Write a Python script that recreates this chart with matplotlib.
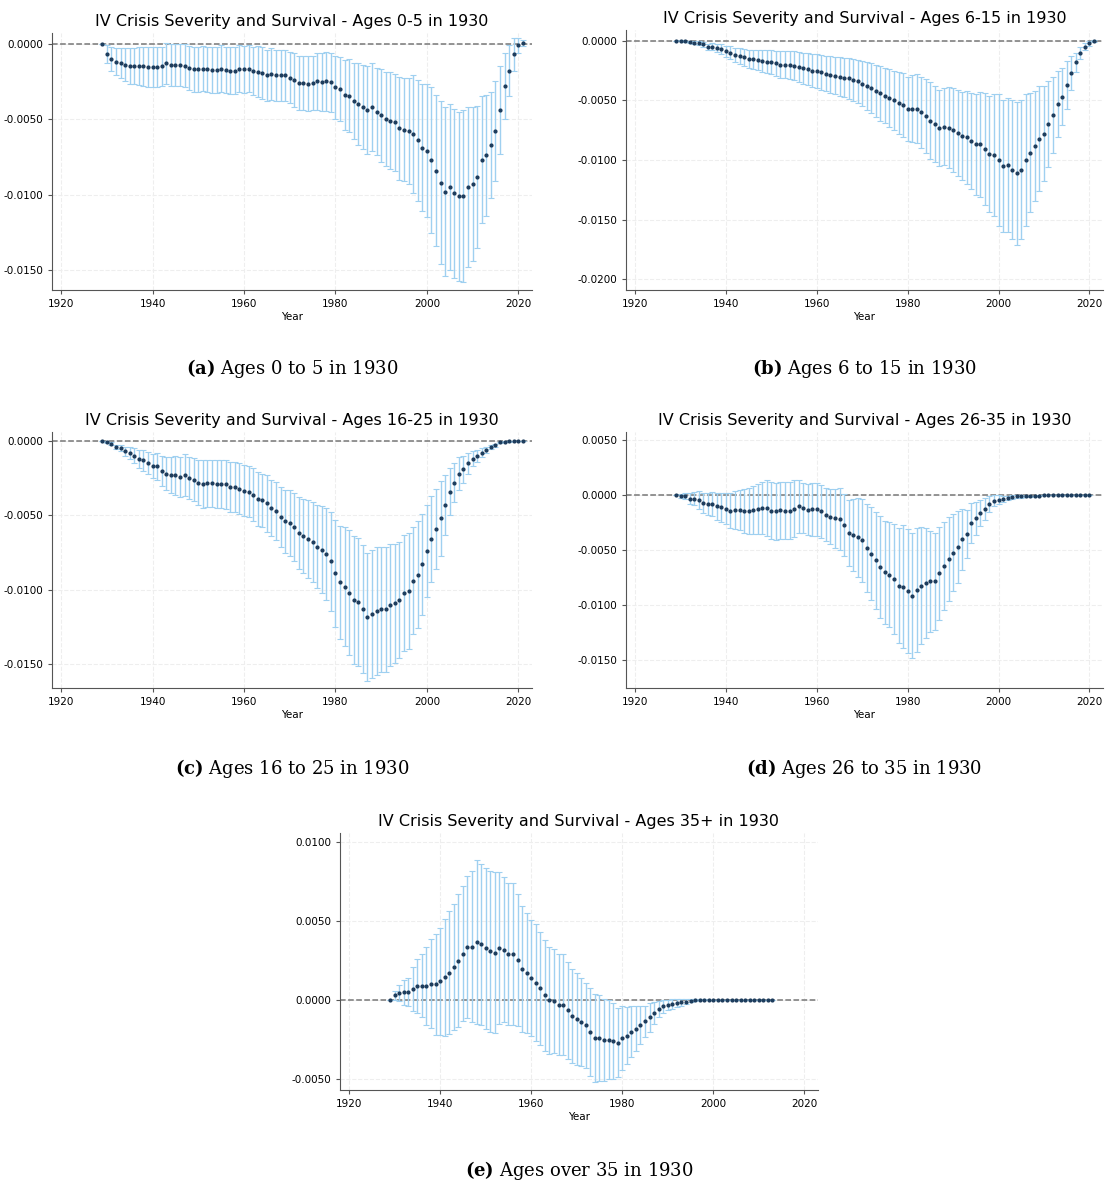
import matplotlib
matplotlib.use("Agg")
import matplotlib.pyplot as plt
import numpy as np

plt.rcParams["mathtext.fontset"] = "dejavuserif"

# values in units of 1e-4
est_a = [0, -7, -10, -12, -13, -14, -15, -15, -15, -15,
         -15.5, -15.5, -15.5, -15, -13, -14, -14, -14, -14.5, -16,
         -17, -17, -16.5, -17, -17.5, -17.5, -16.5, -17.5, -18, -18,
         -16.5, -17, -16.5, -18, -18.5, -19.5, -21, -20, -21, -21,
         -21, -22.5, -24, -26, -26, -26.5, -26, -25, -25.5, -25,
         -25.5, -29, -30, -34, -34.5, -38, -40, -42, -44, -42,
         -45, -47.5, -50, -51, -52, -56, -57, -58, -60, -64,
         -69, -71, -77, -84, -92, -98, -95, -99, -101, -101,
         -95, -93, -88, -77, -74, -67, -58, -44, -28, -18,
         -7, -1, 0.5]
hw_a = [0, 6, 8, 9, 10, 11, 12, 12, 12.5, 13,
        13, 13, 13, 13, 13.5, 14, 14, 14, 14, 14.5,
        15, 15, 15, 15, 15, 15, 15.5, 15.5, 15.5, 15.5,
        15.5, 15.5, 15.5, 16, 17, 17, 17, 17, 17, 17,
        17, 17, 18, 18, 18, 18, 18, 19, 19, 19.5,
        19.5, 21, 21, 23, 24, 25, 27, 28, 29, 29,
        29, 31, 31, 32, 32, 34, 34, 35, 39, 40,
        42, 44, 48, 50, 54, 56, 55, 56, 56, 57,
        53, 51, 47, 42, 40, 35, 33, 29, 22, 17,
        11, 5, 2]

est_b = [0, 0, -0.5, -1, -1.5, -2, -3, -5, -5, -6,
         -7, -9, -10, -12, -13, -14, -15, -15.5, -16, -17,
         -17.5, -18, -19, -20, -20, -20.5, -21, -22, -23, -24,
         -25, -25.5, -26.5, -27.5, -28.5, -29.5, -30, -31, -31.5, -33,
         -34, -36, -38, -40, -42, -44, -46, -48, -50, -52,
         -54, -57, -57, -57, -60, -63, -67, -70, -73, -72,
         -73, -75, -77, -80, -81, -84, -87, -87, -91, -95,
         -96, -100, -105, -104, -108, -111, -108, -100, -94, -88,
         -82, -78, -70, -62, -53, -47, -37, -27, -18, -10,
         -5, -2, 0]
hw_b = [0, 0.3, 0.5, 1, 1, 1.5, 2, 2.5, 3, 3.5,
        4, 5, 5.5, 6, 6.5, 7, 7.5, 8, 8.5, 9,
        9.5, 10, 10.5, 11, 11.5, 12, 12, 12.5, 13, 13.5,
        14, 14, 14.5, 15, 15.5, 15.5, 16, 16.5, 17, 17.5,
        18, 19, 20, 21, 22, 23, 23, 24, 25, 26,
        27, 27, 28, 29, 30, 31, 32, 32, 32, 32,
        34, 35, 36, 37, 39, 40, 42, 44, 47, 49,
        51, 55, 55, 56, 58, 60, 58, 55, 50, 46,
        44, 40, 36, 32, 28, 24, 20, 14, 8, 5,
        3, 2, 1]

est_c = [0, -1, -2, -4, -5, -7, -8, -10, -12, -13,
         -15, -17, -17, -20, -22, -23, -23, -24, -23, -25,
         -26, -28, -29, -28.5, -28.5, -29, -29, -29, -31, -31,
         -32, -33.5, -34, -36, -39, -40, -42, -45, -47, -51,
         -54, -55, -58, -62, -64, -66, -68, -71, -73, -76,
         -81, -89, -95, -98, -102, -107, -108, -113, -118, -116,
         -114, -113, -113, -110, -109, -107, -102, -101, -94, -90,
         -83, -74, -66, -59, -52, -43, -34, -28, -22, -19,
         -15, -12, -10, -8, -6, -4, -3, -1, -0.5, -0.3,
         0, 0, 0]
hw_c = [0, 0.5, 1, 1.5, 2, 3, 4, 5, 6, 7,
        7.5, 8, 9, 10, 11, 12, 13, 13.5, 14, 14,
        14.5, 15, 16, 16, 16, 16, 16, 16.5, 17, 17,
        17, 17, 17, 17.5, 18, 18, 19, 19, 19.5, 20,
        21, 22, 23, 24, 25, 26, 27, 28, 29, 31,
        33, 36, 38, 40, 42, 43, 43, 43, 43, 43,
        43, 42, 42, 41, 40, 39, 39, 39, 36, 36,
        34, 31, 29, 27, 25, 20, 16, 13, 11, 9,
        7, 5, 4, 3, 2, 1.5, 1, 0.5, 0.3, 0.2,
        0, 0, 0]

est_d = [0, -0.5, -0.5, -3, -3, -4, -7, -8, -8, -10,
         -11, -12, -14, -13.5, -13.5, -14, -14.5, -13.5, -12.5, -11.5,
         -11.5, -14, -14.5, -13.5, -14, -14, -12, -10, -11.5, -13,
         -12.5, -12.5, -14.5, -17.5, -19.5, -21, -21.5, -27, -34, -36,
         -38, -41, -48, -53, -59, -65, -70, -72, -76, -82,
         -83, -87, -91, -86, -82, -80, -78, -78, -71, -64,
         -58, -52, -47, -40, -35, -25, -21, -16, -12, -8,
         -5, -4, -3.5, -2.5, -1.5, -1, -1, -1, -0.7, -0.5,
         -0.3, 0, 0, 0, 0, 0, 0, 0, 0, 0,
         0, 0]
hw_d = [0, 1.5, 3, 5, 6, 8, 9, 10, 11, 12,
        13, 14, 16, 17, 18, 20, 21, 22, 23, 24,
        25, 26, 26, 26, 26, 26, 26, 24, 23, 23,
        24, 24, 24, 24, 25, 27, 28, 28, 30, 33,
        36, 38, 40, 42, 44, 46, 47, 48, 50, 52,
        56, 56, 57, 56, 53, 50, 46, 44, 42, 40,
        38, 35, 33, 28, 22, 18, 15, 12, 10, 7,
        5, 4, 3, 2, 1.5, 1, 1, 0.8, 0.5, 0.3,
        0.2, 0, 0, 0, 0, 0, 0, 0, 0, 0,
        0, 0]

est_e = [0, 3, 4.5, 5, 5, 7, 9, 9, 9, 10.5,
         10, 12, 14.5, 17.5, 21, 25, 29.5, 33.5, 34, 37,
         35.5, 33, 31, 30, 33, 32, 29, 29.5, 25.5, 19.5,
         17, 14, 11, 7.5, 3, 0, -0.5, -3, -3, -6.5,
         -10, -12, -14, -16, -20, -24, -24, -25, -25, -26,
         -27, -24, -22.5, -20, -18, -16, -13.5, -11, -8, -5.5,
         -4, -3, -2.5, -2, -1.5, -1, -0.5, 0, 0.3, 0.3,
         0, 0, 0, 0, 0, 0, 0, 0, 0, 0,
         0, 0, 0, 0, 0]
hw_e = [0, 3, 5, 8, 9, 14, 17, 20, 25, 28,
        32, 34, 37, 39, 40, 42, 43, 45, 48, 52,
        51, 51, 51, 51, 48, 46, 45, 45, 42, 40,
        38, 37, 37, 36, 35, 34, 33, 32, 32, 31,
        30, 29, 28, 27, 28, 28, 27, 26, 25, 24,
        22, 20, 18, 16, 14, 12, 10, 9, 7, 5,
        4, 3, 3, 2.5, 2, 1.5, 1, 0.5, 0.3, 0.3,
        0, 0, 0, 0, 0, 0, 0, 0, 0, 0,
        0, 0, 0, 0, 0]

titles = ["0-5", "6-15", "16-25", "26-35", "35+"]
captions = [("a", "Ages 0 to 5 in 1930"), ("b", "Ages 6 to 15 in 1930"),
            ("c", "Ages 16 to 25 in 1930"), ("d", "Ages 26 to 35 in 1930"),
            ("e", "Ages over 35 in 1930")]
series = [(est_a, hw_a), (est_b, hw_b), (est_c, hw_c), (est_d, hw_d), (est_e, hw_e)]
yticks = [[0, -0.005, -0.01, -0.015], [0, -0.005, -0.01, -0.015, -0.02],
          [0, -0.005, -0.01, -0.015], [0.005, 0, -0.005, -0.01, -0.015],
          [0.01, 0.005, 0, -0.005]]
ylims = [(-0.0163, 0.0007), (-0.0209, 0.0009), (-0.0166, 0.0006),
         (-0.0175, 0.00575), (-0.0057, 0.0106)]

W, H = 1109, 1182
# axes boxes in pixels: left, top, right, bottom
boxes = [(52, 33, 532, 290), (626, 30, 1103, 290), (52, 432, 532, 688),
         (626, 432, 1103, 688), (340, 833, 818, 1090)]
cap_y = [368, 368, 769, 769, 1170]

fig = plt.figure(figsize=(W / 100, H / 100), dpi=100)
for i, ((est, hw), box) in enumerate(zip(series, boxes)):
    l, t, r, b = box
    ax = fig.add_axes([l / W, 1 - b / H, (r - l) / W, (b - t) / H])
    est = np.array(est) * 1e-4
    hw = np.array(hw) * 1e-4
    years = np.arange(1929, 1929 + len(est))
    ax.grid(True, color="#eeeeee", linestyle="--", linewidth=0.8)
    ax.set_axisbelow(True)
    ax.axhline(0, color="#777777", linestyle="--", linewidth=1.1, zorder=1)
    ax.errorbar(years, est, yerr=hw, fmt="none", ecolor="#9fd0f0",
                elinewidth=1.0, capsize=2, capthick=0.8, zorder=2)
    ax.plot(years, est, "o", color="#1d3c5c", markersize=2, zorder=3)
    ax.set_xlim(1918, 2023)
    ax.set_ylim(*ylims[i])
    ax.set_xticks(range(1920, 2021, 20))
    ax.set_yticks(yticks[i])
    ax.set_yticklabels([f"{v:.4f}" for v in yticks[i]])
    ax.tick_params(labelsize=7.5, length=3, color="#555555")
    ax.set_xlabel("Year", fontsize=7.5, labelpad=2)
    for s in ["top", "right"]:
        ax.spines[s].set_visible(False)
    for s in ["left", "bottom"]:
        ax.spines[s].set_color("#555555")
    ax.set_title(f"IV Crisis Severity and Survival - Ages {titles[i]} in 1930",
                 fontsize=11.5, pad=5)
    lab, txt = captions[i]
    cx = (l + r) / 2 / W
    fig.text(cx, 1 - cap_y[i] / H, r"$\mathbf{(" + lab + ")}$ " + txt,
             ha="center", va="center", fontsize=13, family="DejaVu Serif")

fig.savefig("out.png", dpi=100)
